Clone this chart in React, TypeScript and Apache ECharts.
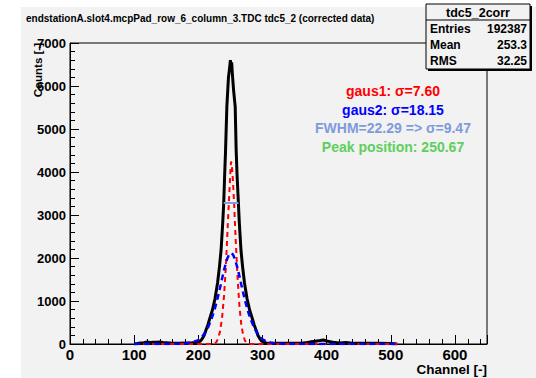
import React, { useEffect, useRef } from "react";
import * as echarts from "echarts";

const histChannels = [100,105,110,115,120,125,130,135,140,145,150,155,160,170,180,190,195,200,203,206,209,212,215,218,222,226,230,233,235.5,238,239.6,241,242.5,244.5,247,249,250,251,252,253,255,257.5,259,260.5,262.5,264,266.5,269,272,276,280,284,287,290,293,296,299,302,306,310,320,340,360,370,375,380,385,390,395,400,405,410,420,430,440,460,480,500,510];
const histCounts = [0,10,25,30,45,35,40,40,45,35,30,25,20,20,25,30,35,45,65,120,200,326,450,600,790,1050,1418,1800,2186,2800,3270,3900,4510,5520,6200,6450,6600,6450,6550,6300,5900,5520,4510,3900,3270,2800,2186,1800,1418,1050,790,600,450,326,200,120,65,40,25,20,15,15,20,35,50,60,70,80,95,70,55,40,25,35,20,15,15,10,0];

const gaus1Channels = [100,150,200,225,228,231,234,237,240,243,246,248,250,251,252,254,256,258,261,264,267,270,273,276,280,300,350,400,450,510];
const gaus1Counts = [0,0,0,0,40,130,300,600,1100,1800,2800,3400,4000,4240,4200,3800,3200,2500,1600,900,450,200,70,20,0,0,0,0,0,0];

const gaus2Channels = [100,150,180,190,200,205,210,215,220,225,230,235,240,245,248,251,254,257,262,267,272,277,282,287,292,297,302,310,320,340,400,450,510];
const gaus2Counts = [0,0,10,40,90,150,250,380,560,780,1060,1380,1720,1980,2080,2115,2080,1980,1720,1380,1060,780,560,380,250,150,90,40,10,0,0,0,0];

const fwhmChannels = [239.6, 262.5];
const fwhmCounts = [3280, 3280];

const xTicks = [0, 100, 200, 300, 400, 500, 600];
const yTicks = [0, 1000, 2000, 3000, 4000, 5000, 6000, 7000];

const fitTexts = [
  "gaus1: \u03c3=7.60",
  "gaus2: \u03c3=18.15",
  "FWHM=22.29 => \u03c3=9.47",
  "Peak position: 250.67",
];
const fitColors = ["#ff0000", "#0000ff", "#7f9bdb", "#5dcf5d"];

const statsTitle = "tdc5_2corr";
const statsNames = ["Entries", "Mean", "RMS"];
const statsValues = ["192387", "253.3", "32.25"];

const FONT = "'Liberation Sans', Arial, Helvetica, sans-serif";
const BG = "#f2f2f2";

function pairs(xs: number[], ys: number[]) {
  return xs.map((x, i) => [x, ys[i]]);
}

export default function App() {
  const ref = useRef<HTMLDivElement>(null);
  useEffect(() => {
    if (!ref.current) return;
    const chart = echarts.init(ref.current, null, { renderer: "svg" });
    const graphics: any[] = [
      { type: "rect", z: -100, shape: { x: 21, y: 7, width: 515, height: 371 }, style: { fill: BG } },
      {
        type: "text", x: 26, y: 18,
        style: { text: "endstationA.slot4.mcpPad_row_6_column_3.TDC tdc5_2 (corrected data)", font: `bold 10px ${FONT}`, fill: "#000", align: "left", verticalAlign: "middle" },
      },
      {
        type: "text", x: 38, y: 43, rotation: Math.PI / 2,
        style: { text: "Counts [-]", font: `bold 11.5px ${FONT}`, fill: "#000", align: "right", verticalAlign: "middle" },
      },
      {
        type: "text", x: 487, y: 369,
        style: { text: "Channel [-]", font: `bold 13.5px ${FONT}`, fill: "#000", align: "right", verticalAlign: "middle" },
      },
    ];
    const textYs = [91, 110, 128, 147];
    fitTexts.forEach((t, i) => {
      graphics.push({
        type: "text", x: 393, y: textYs[i], z: 50,
        style: { text: t, font: `bold 14px ${FONT}`, fill: fitColors[i], align: "center", verticalAlign: "middle" },
      });
    });
    // stats box
    graphics.push({ type: "rect", z: 60, shape: { x: 428, y: 6, width: 104, height: 65 }, style: { fill: "#000" } });
    graphics.push({ type: "rect", z: 61, shape: { x: 426, y: 4, width: 104, height: 65 }, style: { fill: BG, stroke: "#000", lineWidth: 1 } });
    graphics.push({ type: "line", z: 62, shape: { x1: 426, y1: 20, x2: 530, y2: 20 }, style: { stroke: "#000", lineWidth: 1 } });
    graphics.push({
      type: "text", x: 478, y: 12.5, z: 63,
      style: { text: statsTitle, font: `bold 12.5px ${FONT}`, fill: "#000", align: "center", verticalAlign: "middle" },
    });
    const rowYs = [29, 45, 61];
    statsNames.forEach((n, i) => {
      graphics.push({ type: "text", x: 430, y: rowYs[i], z: 63, style: { text: n, font: `bold 12px ${FONT}`, fill: "#000", align: "left", verticalAlign: "middle" } });
      graphics.push({ type: "text", x: 527, y: rowYs[i], z: 63, style: { text: statsValues[i], font: `bold 12px ${FONT}`, fill: "#000", align: "right", verticalAlign: "middle" } });
    });

    chart.setOption({
      animation: false,
      backgroundColor: "#ffffff",
      grid: { left: 70, right: 49, top: 43, bottom: 34, show: true, backgroundColor: BG, borderColor: "#000", borderWidth: 1 },
      xAxis: {
        type: "value", min: 0, max: 650, interval: 100,
        axisLine: { show: true, lineStyle: { color: "#000", width: 1 } },
        axisTick: { show: true, inside: true, length: 9, lineStyle: { color: "#000" } },
        minorTick: { show: true, splitNumber: 5, length: 5, lineStyle: { color: "#000" } },
        splitLine: { show: false },
        axisLabel: {
          margin: 3, color: "#000", fontFamily: FONT, fontWeight: "bold", fontSize: 15,
          formatter: (v: number) => (xTicks.includes(v) ? String(v) : ""),
        },
      },
      yAxis: {
        type: "value", min: 0, max: 7000, interval: 1000,
        axisLine: { show: true, lineStyle: { color: "#000", width: 1 } },
        axisTick: { show: true, inside: true, length: 9, lineStyle: { color: "#000" } },
        minorTick: { show: true, splitNumber: 5, length: 5, lineStyle: { color: "#000" } },
        splitLine: { show: false },
        axisLabel: {
          margin: 4, color: "#000", fontFamily: FONT, fontWeight: "bold", fontSize: 13,
          formatter: (v: number) => (yTicks.includes(v) ? String(v) : ""),
        },
      },
      graphic: graphics,
      series: [
        { type: "line", data: pairs(histChannels, histCounts), showSymbol: false, lineStyle: { color: "#000", width: 3 }, z: 2 },
        { type: "line", data: pairs(gaus1Channels, gaus1Counts), showSymbol: false, lineStyle: { color: "#ff0000", width: 2, type: [5, 4] }, z: 3 },
        { type: "line", data: pairs(gaus2Channels, gaus2Counts), showSymbol: false, lineStyle: { color: "#0000ff", width: 2.5, type: [6, 4] }, z: 4 },
        { type: "line", data: pairs(fwhmChannels, fwhmCounts), showSymbol: false, lineStyle: { color: "#7f9bdb", width: 2 }, z: 5 },
      ],
    });
    return () => chart.dispose();
  }, []);
  return <div ref={ref} style={{ position: "absolute", left: 0, top: 0, width: 536, height: 378 }} />;
}
